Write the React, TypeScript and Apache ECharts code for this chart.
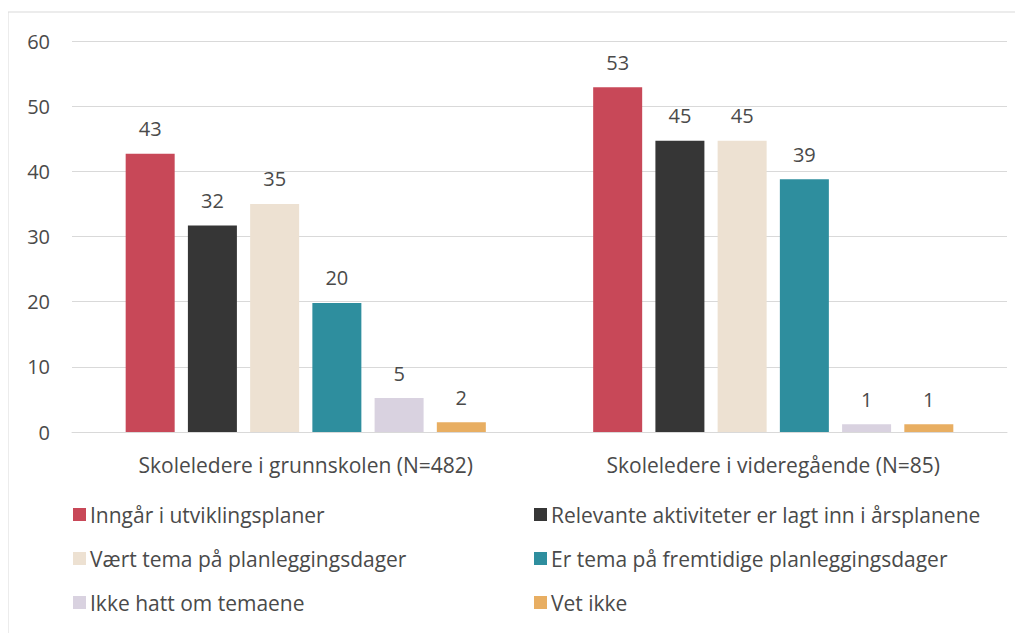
import React, { useEffect, useRef } from "react";
import * as echarts from "echarts";

const categories = ["Skoleledere i grunnskolen (N=482)", "Skoleledere i videregående (N=85)"];
const seriesNames = [
  "Inngår i utviklingsplaner",
  "Relevante aktiviteter er lagt inn i årsplanene",
  "Vært tema på planleggingsdager",
  "Er tema på fremtidige planleggingsdager",
  "Ikke hatt om temaene",
  "Vet ikke",
];
const utvikling = [42.7, 52.9];
const relevante = [31.7, 44.7];
const vaertTema = [35.0, 44.7];
const fremtidige = [19.8, 38.8];
const ikkeHatt = [5.2, 1.2];
const vetIkke = [1.5, 1.2];
const yTicks = [0, 10, 20, 30, 40, 50, 60];

const colors = ["#C84858", "#363636", "#EDE1D2", "#2E8E9E", "#D9D2E0", "#E8AE62"];
const font = "'Open Sans', 'Noto Sans', sans-serif";
const textColor = "#4a4a4a";

export default function App() {
  const ref = useRef<HTMLDivElement>(null);
  useEffect(() => {
    if (!ref.current) return;
    const chart = echarts.init(ref.current, undefined, { renderer: "svg" });
    const allData = [utvikling, relevante, vaertTema, fremtidige, ikkeHatt, vetIkke];
    const legendCommon = {
      orient: "vertical" as const,
      top: 499,
      itemWidth: 13,
      itemHeight: 13,
      itemGap: 23,
      icon: "rect",
      textStyle: { fontFamily: font, fontSize: 21, color: textColor, padding: [0, 0, 0, -1] },
    };
    chart.setOption({
      animation: false,
      color: colors,
      graphic: [
        {
          type: "rect",
          shape: { x: 8, y: 12, width: 1040, height: 640 },
          style: { fill: "none", stroke: "#d9d9d9", lineWidth: 1 },
          silent: true,
        },
      ],
      grid: { left: 72, right: 16, top: 41, bottom: 201 },
      legend: [
        { ...legendCommon, left: 68, data: [seriesNames[0], seriesNames[2], seriesNames[4]] },
        { ...legendCommon, left: 529, data: [seriesNames[1], seriesNames[3], seriesNames[5]] },
      ],
      xAxis: {
        type: "category",
        data: categories,
        axisLine: { lineStyle: { color: "#d9d9d9", width: 1 } },
        axisTick: { show: false },
        axisLabel: { fontFamily: font, fontSize: 21, color: textColor, margin: 22 },
      },
      yAxis: {
        type: "value",
        min: yTicks[0],
        max: yTicks[yTicks.length - 1],
        interval: 10,
        axisLine: { show: false },
        axisTick: { show: false },
        splitLine: { lineStyle: { color: "#d9d9d9", width: 1 } },
        axisLabel: { fontFamily: font, fontSize: 20, color: textColor, margin: 22 },
      },
      series: allData.map((d, i) => ({
        name: seriesNames[i],
        type: "bar",
        data: d,
        barWidth: 49,
        barGap: "27%",
        label: {
          show: true,
          position: "top",
          distance: 15,
          fontFamily: font,
          fontSize: 20,
          color: textColor,
          formatter: (p: any) => String(Math.round(p.value)),
        },
      })),
    });
    return () => chart.dispose();
  }, []);
  return <div ref={ref} style={{ width: 1023, height: 633, marginLeft: -8, marginTop: -8 }} />;
}
